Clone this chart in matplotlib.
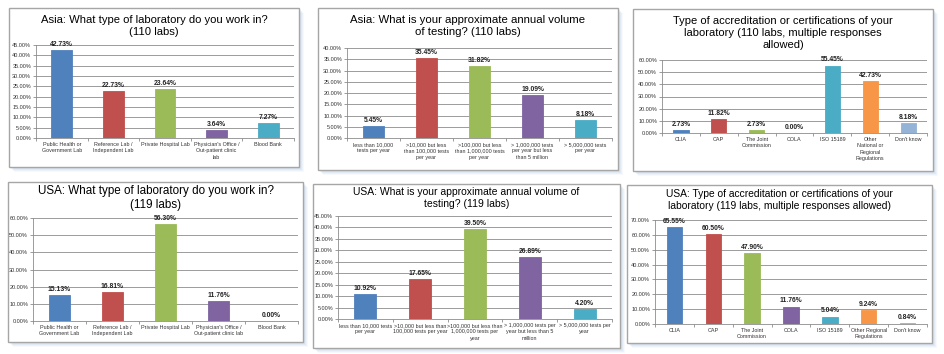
import numpy as np
import matplotlib
matplotlib.use("Agg")
import matplotlib.pyplot as plt
from matplotlib.patches import Rectangle

plt.rcParams['font.family'] = ['Liberation Sans', 'DejaVu Sans']

# ---------------- data ----------------
lab_types_asia = ["Public Health or\nGovernment Lab", "Reference Lab /\nIndependent Lab",
                  "Private Hospital Lab", "Physician's Office /\nOut-patient clinic\nlab",
                  "Blood Bank"]
lab_pct_asia = [42.73, 22.73, 23.64, 3.64, 7.27]

lab_types_usa = ["Public Health or\nGovernment Lab", "Reference Lab /\nIndependent Lab",
                 "Private Hospital Lab", "Physician's Office /\nOut-patient clinic lab",
                 "Blood Bank"]
lab_pct_usa = [15.13, 16.81, 56.30, 11.76, 0.00]

volume_asia = ["less than 10,000\ntests per year", ">10,000 but less\nthan 100,000 tests\nper year",
               ">100,000 but less\nthan 1,000,000 tests\nper year",
               "> 1,000,000 tests\nper year but less\nthan 5 million", "> 5,000,000 tests\nper year"]
volume_pct_asia = [5.45, 35.45, 31.82, 19.09, 8.18]

volume_usa = ["less than 10,000 tests\nper year", ">10,000 but less than\n100,000 tests per year",
              ">100,000 but less than\n1,000,000 tests per\nyear",
              "> 1,000,000 tests per\nyear but less than 5\nmillion", "> 5,000,000 tests per\nyear"]
volume_pct_usa = [10.92, 17.65, 39.50, 26.89, 4.20]

accred_asia = ["CLIA", "CAP", "The Joint\nCommission", "COLA", "ISO 15189",
               "Other\nNational or\nRegional\nRegulations", "Don't know"]
accred_pct_asia = [2.73, 11.82, 2.73, 0.00, 55.45, 42.73, 8.18]

accred_usa = ["CLIA", "CAP", "The Joint\nCommission", "COLA", "ISO 15189",
              "Other Regional\nRegulations", "Don't know"]
accred_pct_usa = [65.55, 60.50, 47.90, 11.76, 5.04, 9.24, 0.84]

# excel 2007 palette
PAL = ["#4F81BD", "#C0504D", "#9BBB59", "#8064A2", "#4BACC6", "#F79646", "#95B3D7"]

W, H = 945, 354
fig = plt.figure(figsize=(W / 100, H / 100), dpi=100)


def fx(x):
    return x / W


def fy(y):
    return 1 - y / H


def panel(box, axbox, title, title_y, cats, vals, ymax, ystep, tsize=7.2):
    bx0, by0, bx1, by1 = box
    # soft blue shadow
    for k, a in zip(range(5, 0, -1), [0.06, 0.08, 0.1, 0.12, 0.14]):
        fig.patches.append(Rectangle((fx(bx0 + k), fy(by1 + k)), fx(bx1 - bx0), (by1 - by0) / H,
                                     transform=fig.transFigure, facecolor="#7FA3CF",
                                     edgecolor="none", alpha=a, zorder=0))
    fig.patches.append(Rectangle((fx(bx0), fy(by1)), fx(bx1 - bx0), (by1 - by0) / H,
                                 transform=fig.transFigure, facecolor="white",
                                 edgecolor="#A6A6A6", linewidth=1.0, zorder=1))
    fig.text(fx((bx0 + bx1) / 2), fy(title_y), title, ha="center", va="center",
             fontsize=tsize, linespacing=1.2, zorder=5)

    x0, y0, x1, y1 = axbox
    ax = fig.add_axes([fx(x0), fy(y1), fx(x1 - x0), (y1 - y0) / H])
    ax.set_zorder(3)
    ax.patch.set_alpha(0)
    n = len(vals)
    xs = np.arange(n)
    cols = PAL[:n]
    ax.bar(xs, vals, width=0.4, color=cols, edgecolor=cols, linewidth=0.6, zorder=3)
    for xi, v in zip(xs, vals):
        ax.annotate(f"{v:.2f}%", (xi, v), xytext=(0, 1.5), textcoords="offset points",
                    ha="center", va="bottom", fontsize=4.9, fontweight="bold", color="#222222")
    ax.set_xlim(-0.5, n - 0.5)
    ax.set_ylim(0, ymax)
    yt = np.arange(0, ymax + 0.01, ystep)
    ax.set_yticks(yt)
    ax.set_yticklabels([f"{t:.2f}%" for t in yt], fontsize=4.0, color="#333333")
    ax.yaxis.grid(True, color="#8C8C8C", linewidth=0.6, zorder=0)
    ax.set_axisbelow(True)
    ax.set_xticks(xs)
    ax.set_xticklabels(cats, fontsize=3.9, color="#333333", linespacing=1.3)
    ax.set_xticks(np.arange(-0.5, n, 1.0), minor=True)
    ax.tick_params(axis="x", which="major", length=0, pad=3)
    ax.tick_params(axis="x", which="minor", length=2.5, color="#8C8C8C", width=0.6)
    ax.tick_params(axis="y", length=2, color="#8C8C8C", width=0.6, pad=1.5)
    for s in ["top", "right"]:
        ax.spines[s].set_visible(False)
    for s in ["left", "bottom"]:
        ax.spines[s].set_color("#8C8C8C")
        ax.spines[s].set_linewidth(0.6)
    return ax


panel((9, 8, 299, 167), (36, 45, 294, 138),
      "Asia: What type of laboratory do you work in?\n(110 labs)", 26,
      lab_types_asia, lab_pct_asia, 45, 5, tsize=8.1)
panel((318, 8, 618, 170), (347, 48, 612, 138),
      "Asia: What is your approximate annual volume\nof testing? (110 labs)", 26,
      volume_asia, volume_pct_asia, 40, 5, tsize=8.2)
panel((633, 9, 933, 171), (662, 60, 927, 133),
      "Type of accreditation or certifications of your\nlaboratory (110 labs, multiple responses\nallowed)", 33,
      accred_asia, accred_pct_asia, 60, 10, tsize=8.0)
panel((8, 182, 303, 342), (33, 218, 298, 321),
      "USA: What type of laboratory do you work in?\n(119 labs)", 198,
      lab_types_usa, lab_pct_usa, 60, 10, tsize=8.4)
panel((313, 184, 620, 348), (338, 216, 612, 319),
      "USA: What is your approximate annual volume of\ntesting? (119 labs)", 198,
      volume_usa, volume_pct_usa, 45, 5, tsize=7.5)
panel((627, 185, 932, 343), (655, 220, 927, 324),
      "USA: Type of accreditation or certifications of your\nlaboratory (119 labs, multiple responses allowed)", 200,
      accred_usa, accred_pct_usa, 70, 10, tsize=7.4)

fig.savefig("out.png", dpi=100)
